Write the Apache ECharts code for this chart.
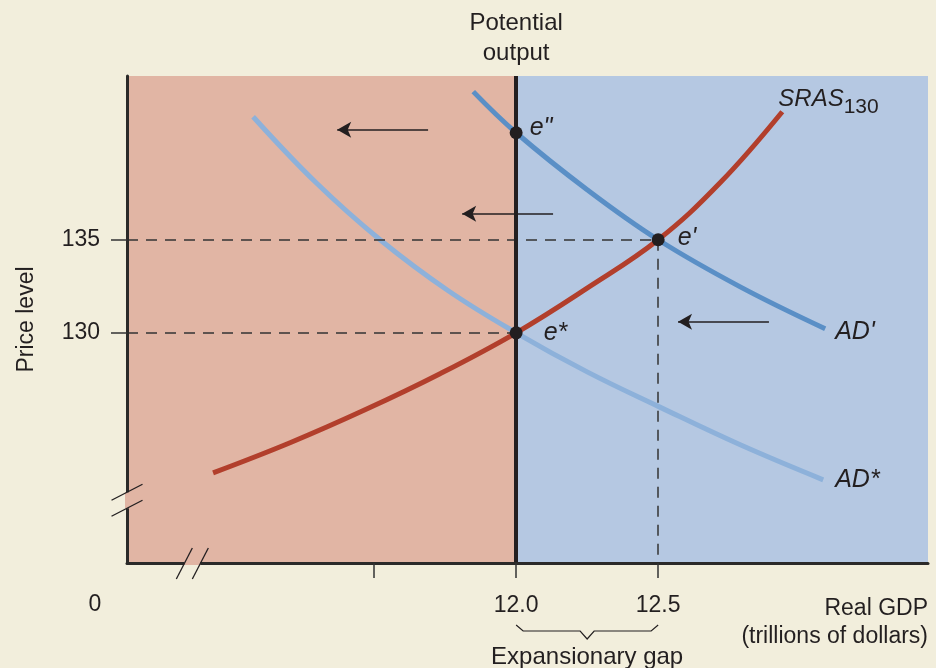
<!DOCTYPE html>
<html><head><meta charset="utf-8">
<script src="https://cdn.jsdelivr.net/npm/echarts@6/dist/echarts.min.js"></script>
<style>html,body{margin:0;padding:0;background:#f2eedc;}#c{width:936px;height:668px;}</style>
</head><body><div id="c"></div>
<script>
// ---- data ----
const xMin = 10.63, xMax = 13.45, yMin = 117.63, yMax = 143.8;
const potentialOutput = 12.0;
const xTickValues = [11.5, 12.0, 12.5];
const xLabelValues = [12.0, 12.5];
const yTickValues = [130, 135];
const srasX = [10.933, 11.204, 11.468, 11.732, 12.0, 12.25, 12.5, 12.718, 12.937];
const srasY = [122.47, 124.09, 125.86, 127.80, 130, 132.40, 135, 138.06, 141.88];
const adPrimeX = [11.849, 12.0, 12.25, 12.5, 12.789, 13.088];
const adPrimeY = [142.96, 140.75, 137.69, 135, 132.47, 130.22];
const adStarX = [11.074, 11.296, 11.521, 11.761, 12.0, 12.25, 12.504, 12.789, 13.081];
const adStarY = [141.61, 138.06, 135.0, 132.26, 130, 127.90, 126.02, 123.98, 122.10];
const eqX = [12.0, 12.5, 12.0];
const eqY = [130, 135, 140.75];
const eqLabels = ['e*', "e'", 'e"'];
const arrowStartX = [11.69, 12.13, 12.89];
const arrowEndX = [11.37, 11.81, 12.57];
const arrowY = [140.91, 136.4, 130.59];
const xBreak = 10.86, yBreak = 121.0;

// ---- styles ----
const FONT = '"Liberation Sans", Arial, sans-serif';
const INK = '#231f20';
const PINK = '#e1b5a4', BLUE = '#b5c8e2', BG = '#f2eedc';
const zip = (xs, ys) => xs.map((x, i) => [x, ys[i]]);
const eqLabelOffsets = [[14, 0], [6, -2], [0, -5]];

const chart = echarts.init(document.getElementById('c'), null, {renderer: 'canvas'});
const option = {
  backgroundColor: BG,
  animation: false,
  grid: {left: 127, right: 8, top: 76, bottom: 105, containLabel: false, outerBoundsMode: 'none'},
  xAxis: {
    type: 'value', min: xMin, max: xMax, z: 10,
    splitLine: {show: false},
    axisLine: {show: true, lineStyle: {color: '#2b2a29', width: 3}},
    axisTick: {show: true, customValues: xTickValues, length: 15, lineStyle: {color: '#333', width: 1.5}},
    axisLabel: {customValues: xLabelValues, formatter: v => v.toFixed(1), margin: 31, fontSize: 23, color: INK, fontFamily: FONT}
  },
  yAxis: {
    type: 'value', min: yMin, max: yMax, z: 10,
    name: 'Price level', nameLocation: 'middle', nameGap: 89, nameRotate: 90,
    nameTextStyle: {fontSize: 23, color: INK, fontFamily: FONT},
    splitLine: {show: false},
    axisLine: {show: true, lineStyle: {color: '#2b2a29', width: 3}},
    axisTick: {show: true, customValues: yTickValues, length: 16, lineStyle: {color: '#333', width: 1.5}},
    axisLabel: {customValues: yTickValues, margin: 27, fontSize: 23, color: INK, fontFamily: FONT}
  },
  series: [
    {
      type: 'line', data: [], z: 1, silent: true,
      markArea: {silent: true, data: [
        [{xAxis: xMin, yAxis: yMin, itemStyle: {color: PINK}}, {xAxis: potentialOutput, yAxis: yMax}],
        [{xAxis: potentialOutput, yAxis: yMin, itemStyle: {color: BLUE}}, {xAxis: xMax, yAxis: yMax}]
      ]}
    },
    {
      type: 'line', data: [], z: 2, silent: true,
      markLine: {silent: true, symbol: ['none', 'none'], label: {show: false},
        lineStyle: {color: '#333', width: 1.5, type: [11, 8]},
        data: [
          [{coord: [xMin, eqY[1]]}, {coord: [eqX[1], eqY[1]]}],
          [{coord: [xMin, eqY[0]]}, {coord: [eqX[0], eqY[0]]}],
          [{coord: [eqX[1], eqY[1]]}, {coord: [eqX[1], yMin]}]
        ]}
    },
    {
      name: 'AD*', type: 'line', z: 3, smooth: 0.4, showSymbol: false, data: zip(adStarX, adStarY),
      lineStyle: {color: '#8db1da', width: 5},
      endLabel: {show: true, formatter: 'AD*', fontSize: 25, fontStyle: 'italic', color: INK, fontFamily: FONT, distance: 12}
    },
    {
      name: "AD'", type: 'line', z: 3, smooth: 0.4, showSymbol: false, data: zip(adPrimeX, adPrimeY),
      lineStyle: {color: '#5a8fc6', width: 5},
      endLabel: {show: true, formatter: "AD'", fontSize: 25, fontStyle: 'italic', color: INK, fontFamily: FONT, distance: 10, offset: [0, 3]}
    },
    {
      name: 'SRAS', type: 'line', z: 3, smooth: 0.4, showSymbol: false, data: zip(srasX, srasY),
      lineStyle: {color: '#b23f2c', width: 5},
      endLabel: {show: true, formatter: '{a|SRAS}{b|130}', distance: 5, offset: [-9, -12],
        rich: {a: {fontSize: 24, fontStyle: 'italic', color: INK, fontFamily: FONT},
               b: {fontSize: 21, color: INK, fontFamily: FONT, padding: [14, 0, 0, 0]}}}
    },
    {
      type: 'line', data: [], z: 3, silent: true,
      markLine: {silent: true, symbol: ['none', 'arrow'], symbolSize: [12, 14], label: {show: false},
        lineStyle: {color: INK, width: 1.5, type: 'solid'},
        data: arrowY.map((y, i) => [{coord: [arrowStartX[i], y]}, {coord: [arrowEndX[i], y]}])}
    },
    {
      type: 'line', data: [], z: 4, silent: true,
      markLine: {silent: true, symbol: ['none', 'none'], label: {show: false},
        lineStyle: {color: INK, width: 4, type: 'solid'},
        data: [{xAxis: potentialOutput}]}
    },
    {
      type: 'scatter', z: 5, symbolSize: 13, itemStyle: {color: INK, opacity: 1},
      data: eqX.map((x, i) => ({value: [x, eqY[i]], label: {offset: eqLabelOffsets[i]}})),
      label: {show: true, position: 'right', distance: 7, formatter: p => eqLabels[p.dataIndex],
        fontSize: 25, fontStyle: 'italic', color: INK, fontFamily: FONT}
    }
  ]
};
chart.setOption(option);

// decorations positioned from the axes
const px = (x, y) => chart.convertToPixel({gridIndex: 0}, [x, y]);
const origin = px(xMin, yMin);
const right = px(xMax, yMin);
const yb = px(xMin, yBreak);
const xb = px(xBreak, yMin);
const p12 = px(eqX[0], yMin), p125 = px(eqX[1], yMin);
const braceY = origin[1] + 68;
const mid = (p12[0] + p125[0]) / 2;
const lineStyle = {stroke: INK, lineWidth: 1.3};
chart.setOption({graphic: [
  {type: 'rect', z: 100, shape: {x: origin[0] - 2, y: yb[1] - 8, width: 4, height: 16}, style: {fill: PINK}},
  {type: 'line', z: 101, shape: {x1: origin[0] - 15.5, y1: yb[1] + 0, x2: origin[0] + 15.5, y2: yb[1] - 16}, style: lineStyle},
  {type: 'line', z: 101, shape: {x1: origin[0] - 15.5, y1: yb[1] + 16, x2: origin[0] + 15.5, y2: yb[1] + 0}, style: lineStyle},
  {type: 'rect', z: 100, shape: {x: xb[0] - 8, y: origin[1] - 2, width: 16, height: 4}, style: {fill: PINK}},
  {type: 'line', z: 101, shape: {x1: xb[0] - 16, y1: origin[1] + 16, x2: xb[0], y2: origin[1] - 15}, style: lineStyle},
  {type: 'line', z: 101, shape: {x1: xb[0], y1: origin[1] + 16, x2: xb[0] + 16, y2: origin[1] - 15}, style: lineStyle},
  {type: 'polyline', z: 100, shape: {points: [
    [p12[0], braceY - 6], [p12[0] + 7, braceY], [mid - 7, braceY], [mid, braceY + 8],
    [mid + 7, braceY], [p125[0] - 7, braceY], [p125[0], braceY - 6]]}, style: {stroke: INK, lineWidth: 1.2, fill: null}},
  {type: 'text', z: 100, x: mid, y: braceY + 26, style: {text: 'Expansionary gap', fontSize: 24, fontFamily: FONT, fill: INK, textAlign: 'center', textVerticalAlign: 'middle'}},
  {type: 'text', z: 100, x: right[0], y: origin[1] + 60, style: {text: 'Real GDP\n(trillions of dollars)', fontSize: 23, lineHeight: 28, fontFamily: FONT, fill: INK, textAlign: 'right', textVerticalAlign: 'middle'}},
  {type: 'text', z: 100, x: origin[0] - 32, y: origin[1] + 42, style: {text: '0', fontSize: 23, fontFamily: FONT, fill: INK, textAlign: 'center', textVerticalAlign: 'middle'}},
  {type: 'text', z: 100, x: p12[0], y: 38, style: {text: 'Potential\noutput', fontSize: 24, lineHeight: 30, fontFamily: FONT, fill: INK, textAlign: 'center', textVerticalAlign: 'middle'}}
]});
</script>
</body></html>
